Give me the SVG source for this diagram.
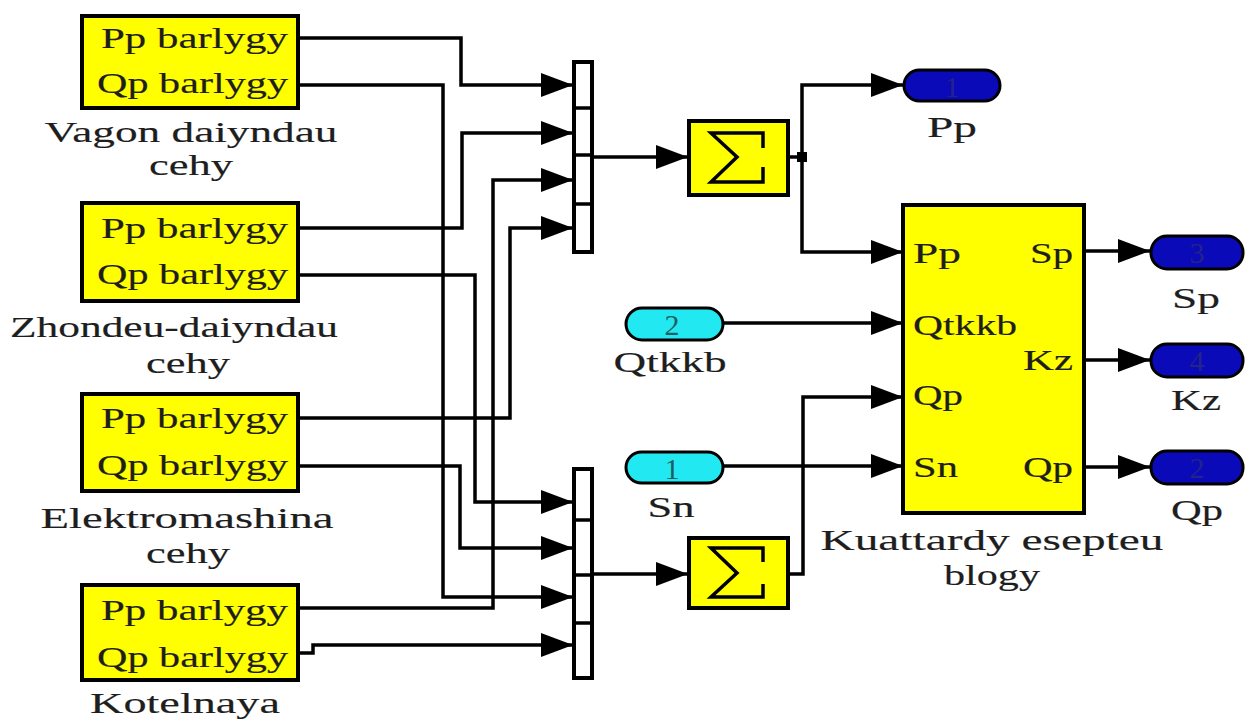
<svg xmlns="http://www.w3.org/2000/svg" width="1248" height="720" viewBox="0 0 1248 720" font-family="'Liberation Serif', 'DejaVu Serif', serif">
<defs>
<marker id="ah" markerUnits="userSpaceOnUse" markerWidth="32" markerHeight="24" refX="32" refY="12" orient="auto">
<path d="M0,0 L32,12 L0,24 Z" fill="#000"/>
</marker>
<style>
.blk{fill:#ffff00;stroke:#000;stroke-width:4}
.mux{fill:#fff;stroke:#000;stroke-width:4}
.w{fill:none;stroke:#000;stroke-width:3.5}
.wa{fill:none;stroke:#000;stroke-width:3.5;marker-end:url(#ah)}
text{font-family:'Liberation Serif','DejaVu Serif',serif}
.t{font-size:30px;fill:#1e1e1e;stroke:#1e1e1e;stroke-width:0.15}
.in{fill:#22e8f2;stroke:#000;stroke-width:3}
.out{fill:#0a0ab8;stroke:#000;stroke-width:3}
.n{font-size:30px;text-anchor:middle}
.c{text-anchor:middle}
.e{text-anchor:end}
</style>
</defs>
<rect width="1248" height="720" fill="#fff"/>

<g id="connectors">
<polyline class="wa" points="298,38 461,38 461,85 573,85"/>
<polyline class="wa" points="298,85 443,85 443,597 573,597"/>
<polyline class="wa" points="298,228 462,228 462,133 573,133"/>
<polyline class="wa" points="298,275 475,275 475,502 573,502"/>
<polyline class="wa" points="298,418 510,418 510,228 573,228"/>
<polyline class="wa" points="298,466 460,466 460,548 573,548"/>
<polyline class="wa" points="298,608 493,608 493,180 573,180"/>
<polyline class="wa" points="298,653 313,653 313,645 573,645"/>
<polyline class="wa" points="592,157 688,157"/>
<polyline class="wa" points="592,574 688,574"/>
<polyline class="w" points="789,157 802,157"/>
<polyline class="wa" points="802,157 802,85 903,85"/>
<polyline class="wa" points="802,157 802,252 903,252"/>
<rect x="797" y="152" width="10" height="10" fill="#000"/>
<polyline class="wa" points="788,574 803,574 803,397 903,397"/>
<polyline class="wa" points="723,323 903,323"/>
<polyline class="wa" points="723,466 903,466"/>
<polyline class="wa" points="1084,251 1150,251"/>
<polyline class="wa" points="1084,360 1150,360"/>
<polyline class="wa" points="1084,467 1150,467"/>
</g>

<g id="vagon">
<rect class="blk" x="82" y="16" width="216" height="92"/>
<text class="t e" x="288" y="48" textLength="187" lengthAdjust="spacingAndGlyphs">Pp barlygy</text>
<text class="t e" x="288" y="93" textLength="191" lengthAdjust="spacingAndGlyphs">Qp barlygy</text>
<text class="t c" x="191" y="142" textLength="293" lengthAdjust="spacingAndGlyphs">Vagon daiyndau</text>
<text class="t c" x="191" y="175" textLength="84" lengthAdjust="spacingAndGlyphs">cehy</text>
</g>

<g id="zhondeu">
<rect class="blk" x="82" y="203" width="216" height="98"/>
<text class="t e" x="288" y="238" textLength="187" lengthAdjust="spacingAndGlyphs">Pp barlygy</text>
<text class="t e" x="288" y="284" textLength="191" lengthAdjust="spacingAndGlyphs">Qp barlygy</text>
<text class="t c" x="174" y="337" textLength="328" lengthAdjust="spacingAndGlyphs">Zhondeu-daiyndau</text>
<text class="t c" x="188" y="373" textLength="84" lengthAdjust="spacingAndGlyphs">cehy</text>
</g>

<g id="elektro">
<rect class="blk" x="82" y="394" width="216" height="97"/>
<text class="t e" x="288" y="428" textLength="187" lengthAdjust="spacingAndGlyphs">Pp barlygy</text>
<text class="t e" x="288" y="475" textLength="191" lengthAdjust="spacingAndGlyphs">Qp barlygy</text>
<text class="t c" x="187" y="528" textLength="293" lengthAdjust="spacingAndGlyphs">Elektromashina</text>
<text class="t c" x="188" y="563" textLength="84" lengthAdjust="spacingAndGlyphs">cehy</text>
</g>

<g id="kotelnaya">
<rect class="blk" x="82" y="585" width="216" height="95"/>
<text class="t e" x="288" y="620" textLength="187" lengthAdjust="spacingAndGlyphs">Pp barlygy</text>
<text class="t e" x="288" y="667" textLength="191" lengthAdjust="spacingAndGlyphs">Qp barlygy</text>
<text class="t c" x="185" y="713" textLength="190" lengthAdjust="spacingAndGlyphs">Kotelnaya</text>
</g>

<g id="mux1">
<rect class="mux" x="574" y="62" width="18" height="190"/>
<line class="w" x1="574" y1="108" x2="592" y2="108"/>
<line class="w" x1="574" y1="155" x2="592" y2="155"/>
<line class="w" x1="574" y1="204" x2="592" y2="204"/>
</g>

<g id="mux2">
<rect class="mux" x="574" y="469" width="18" height="209"/>
<line class="w" x1="574" y1="520" x2="592" y2="520"/>
<line class="w" x1="574" y1="575" x2="592" y2="575"/>
<line class="w" x1="574" y1="623" x2="592" y2="623"/>
</g>

<g id="sum1">
<rect class="blk" x="689" y="121" width="99" height="74"/>
<polyline fill="none" stroke="#000" stroke-width="3.5" points="763,148 763,133 711,133 737,157 711,182 763,182 763,167"/>
</g>

<g id="sum2">
<rect class="blk" x="689" y="538" width="99" height="70"/>
<polyline fill="none" stroke="#000" stroke-width="3.5" points="763,562 763,548 711,548 737,573 711,597 763,597 763,584"/>
</g>

<g id="in_qtkkb">
<rect class="in" x="626" y="308" width="97" height="32" rx="16"/>
<text class="n" x="672" y="335" fill="#1f5f60">2</text>
<text class="t c" x="670" y="372" textLength="113" lengthAdjust="spacingAndGlyphs">Qtkkb</text>
</g>

<g id="in_sn">
<rect class="in" x="626" y="452" width="97" height="31" rx="15.5"/>
<text class="n" x="672" y="479" fill="#1f5f60">1</text>
<text class="t c" x="671" y="517" textLength="47" lengthAdjust="spacingAndGlyphs">Sn</text>
</g>

<g id="kuattar">
<rect class="blk" x="903" y="205" width="181" height="308"/>
<text class="t" x="913" y="263" textLength="48" lengthAdjust="spacingAndGlyphs">Pp</text>
<text class="t" x="913" y="335" textLength="104" lengthAdjust="spacingAndGlyphs">Qtkkb</text>
<text class="t" x="913" y="405" textLength="50" lengthAdjust="spacingAndGlyphs">Qp</text>
<text class="t" x="913" y="477" textLength="45" lengthAdjust="spacingAndGlyphs">Sn</text>
<text class="t e" x="1073" y="263" textLength="43" lengthAdjust="spacingAndGlyphs">Sp</text>
<text class="t e" x="1073" y="370" textLength="50" lengthAdjust="spacingAndGlyphs">Kz</text>
<text class="t e" x="1073" y="477" textLength="50" lengthAdjust="spacingAndGlyphs">Qp</text>
<text class="t c" x="992" y="550" textLength="343" lengthAdjust="spacingAndGlyphs">Kuattardy esepteu</text>
<text class="t c" x="992" y="585" textLength="96" lengthAdjust="spacingAndGlyphs">blogy</text>
</g>

<g id="out_pp">
<rect class="out" x="904" y="70" width="96" height="31" rx="15.5"/>
<text class="n" x="952" y="97" fill="#23238a">1</text>
<text class="t c" x="952" y="137" textLength="50" lengthAdjust="spacingAndGlyphs">Pp</text>
</g>

<g id="out_sp">
<rect class="out" x="1151" y="236" width="92" height="33" rx="16"/>
<text class="n" x="1197" y="263" fill="#23238a">3</text>
<text class="t c" x="1196" y="308" textLength="48" lengthAdjust="spacingAndGlyphs">Sp</text>
</g>

<g id="out_kz">
<rect class="out" x="1151" y="344" width="92" height="33" rx="16"/>
<text class="n" x="1197" y="371" fill="#23238a">4</text>
<text class="t c" x="1196" y="410" textLength="50" lengthAdjust="spacingAndGlyphs">Kz</text>
</g>

<g id="out_qp">
<rect class="out" x="1151" y="451" width="92" height="33" rx="16"/>
<text class="n" x="1197" y="478" fill="#23238a">2</text>
<text class="t c" x="1197" y="520" textLength="52" lengthAdjust="spacingAndGlyphs">Qp</text>
</g>
</svg>
